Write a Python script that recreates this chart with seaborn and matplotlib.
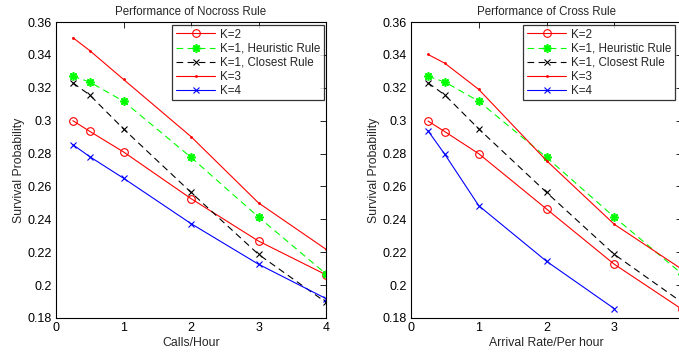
import matplotlib
matplotlib.use("Agg")
import matplotlib.pyplot as plt
import seaborn as sns
import numpy as np

sns.set_theme(style="white")
plt.rcParams["font.family"] = ["Liberation Sans", "DejaVu Sans"]

# Arrival rates (calls per hour)
rates = [0.25, 0.5, 1, 2, 3, 4]
x_ticks = [0, 1, 2, 3, 4]
y_ticks = [0.18, 0.20, 0.22, 0.24, 0.26, 0.28, 0.30, 0.32, 0.34, 0.36]

# Survival probability, Nocross rule
nocross_k2 = [0.300, 0.2935, 0.281, 0.2526, 0.2268, 0.2063]
nocross_k3 = [0.3505, 0.3426, 0.3251, 0.2903, 0.2500, 0.2218]
nocross_k4 = [0.2854, 0.2781, 0.2650, 0.2374, 0.2127, 0.1918]

# Survival probability, Cross rule
cross_k2 = [0.2998, 0.2933, 0.2799, 0.2463, 0.2127, 0.1853]
cross_k3 = [0.3403, 0.3349, 0.3190, 0.2757, 0.2370, 0.2096]
cross_k4 = [0.2939, 0.2795, 0.2483, 0.2145, 0.1857]

# Single-ambulance baselines (same for both rules)
k1_heuristic = [0.3270, 0.3235, 0.3118, 0.2777, 0.2414, 0.2068]
k1_closest = [0.3230, 0.3156, 0.2950, 0.2564, 0.2187, 0.1895]

W, H = 679, 358
fig = plt.figure(figsize=(W / 100, H / 100), dpi=100)
ax_left = fig.add_axes([56 / W, 40 / H, 270 / W, 296 / H])
ax_right = fig.add_axes([411 / W, 40 / H, 271 / W, 296 / H])


def draw(ax, k2, k3, k4, title, xlabel, legend_right, last_xlabel=True):
    lw = 0.8
    sns.lineplot(x=rates[:len(k2)], y=k2, ax=ax, color="#ff0000", lw=lw,
                 marker="o", markersize=5.5, markerfacecolor="none",
                 markeredgecolor="#ff0000", markeredgewidth=0.8, label="K=2")
    sns.lineplot(x=rates, y=k1_heuristic, ax=ax, color="#00ff00", lw=lw,
                 linestyle=(0, (6, 4)), marker=(8, 2, 0), markersize=6,
                 markeredgecolor="#00ff00", markeredgewidth=1.2,
                 label="K=1, Heuristic Rule")
    sns.lineplot(x=rates, y=k1_closest, ax=ax, color="black", lw=lw,
                 linestyle=(0, (6, 4)), marker="x", markersize=4.5,
                 markeredgecolor="black", markeredgewidth=0.8,
                 label="K=1, Closest Rule")
    sns.lineplot(x=rates[:len(k3)], y=k3, ax=ax, color="#ff0000", lw=lw,
                 marker=".", markersize=3, markeredgecolor="#ff0000",
                 markeredgewidth=0.5, label="K=3")
    sns.lineplot(x=rates[:len(k4)], y=k4, ax=ax, color="#0000ff", lw=lw,
                 marker="x", markersize=4.5, markeredgecolor="#0000ff",
                 markeredgewidth=0.8, label="K=4")

    ax.set_xlim(0, 4)
    ax.set_ylim(0.18, 0.36)
    ax.set_xticks(x_ticks)
    ax.set_yticks(y_ticks)
    xlabels = [f"{v:g}" for v in x_ticks]
    if not last_xlabel:
        xlabels[-1] = ""
    ax.set_xticklabels(xlabels)
    ax.set_yticklabels([f"{v:g}" for v in y_ticks])
    ax.tick_params(direction="in", top=True, right=True, length=4,
                   width=0.6, labelsize=9, colors="black", pad=3)
    for sp in ax.spines.values():
        sp.set_visible(True)
        sp.set_color("black")
        sp.set_linewidth(0.8)
    ax.set_title(title, fontsize=8.3, pad=5)
    ax.set_xlabel(xlabel, fontsize=8.8, labelpad=2)
    ax.set_ylabel("Survival Probability", fontsize=8.8, labelpad=2)

    leg = ax.legend(loc="upper right",
                    bbox_to_anchor=(legend_right / W, 1 - 25 / H),
                    bbox_transform=fig.transFigure, borderaxespad=0,
                    fontsize=8.4, frameon=True, fancybox=False,
                    handlelength=3.4, handletextpad=0.4, labelspacing=0.18,
                    borderpad=0.3)
    leg.get_frame().set_edgecolor("black")
    leg.get_frame().set_linewidth(0.9)


draw(ax_left, nocross_k2, nocross_k3, nocross_k4,
     "Performance of Nocross Rule", "Calls/Hour", 324)
draw(ax_right, cross_k2, cross_k3, cross_k4,
     "Performance of Cross Rule", "Arrival Rate/Per hour", 675,
     last_xlabel=False)

fig.savefig("out.png", dpi=100)
